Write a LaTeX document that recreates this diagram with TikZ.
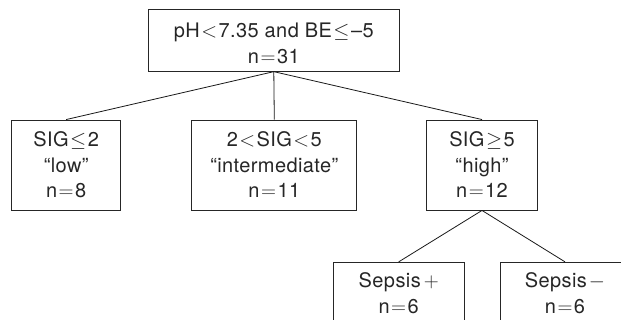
\documentclass[tikz,border=0pt]{standalone}
\usepackage{fontspec}
\setmainfont[LetterSpace=2]{TeX Gyre Heros}
\newcommand{\rel}[1]{\kern1.5pt${#1}$\kern1.5pt}
\begin{document}
\begin{tikzpicture}[x=1pt,y=-1pt,
  box/.style={draw=black!85,line width=0.9pt,text=black!85,align=center,inner sep=0pt,
    font=\fontsize{20}{25.5}\selectfont},
  conn/.style={draw=black!90,line width=0.8pt}]
\useasboundingbox (0,0) rectangle (621,320);
\clip (0,0) rectangle (621,320);
\node[box,minimum width=251pt,minimum height=62pt] (top) at (273.8,40.2)
  {\rule{0pt}{21pt}pH\rel{<}7.35 and BE\rel{\leq}–5\\n\rel{=}31};
\node[box,minimum width=109pt,minimum height=90pt] (low) at (66.2,165)
  {SIG\rel{\leq}2\\“low”\\n\rel{=}8};
\node[box,minimum width=165pt,minimum height=90pt] (mid) at (274.3,165)
  {2\rel{<}SIG\rel{<}5\\“intermediate”\\n\rel{=}11};
\node[box,minimum width=111pt,minimum height=90pt] (high) at (482,165)
  {SIG\rel{\geq}5\\“high”\\n\rel{=}12};
\node[box,minimum width=131pt,minimum height=62pt] (sp) at (398.7,293.3)
  {Sepsis\kern3pt$+$\\n\rel{=}6};
\node[box,minimum width=130pt,minimum height=62pt] (sm) at (565,293.3)
  {Sepsis\kern2pt$-$\\n\rel{=}6};
\draw[conn] (top.south) -- (low.north);
\draw[conn] (top.south) -- (mid.north);
\draw[conn] (top.south) -- (high.north);
\draw[conn] (high.south) -- (sp.north);
\draw[conn] (high.south) -- (sm.north);
\end{tikzpicture}
\end{document}
